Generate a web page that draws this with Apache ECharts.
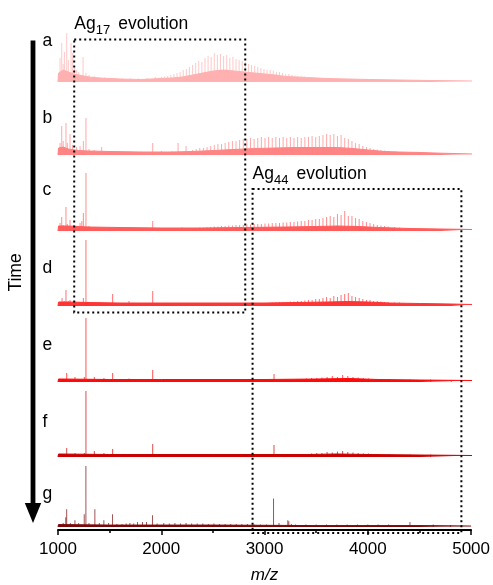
<!DOCTYPE html>
<html><head><meta charset="utf-8">
<script src="https://cdn.jsdelivr.net/npm/echarts@6/dist/echarts.min.js"></script>
<style>html,body{margin:0;padding:0;background:#fff}#c{width:493px;height:585px}</style>
</head><body><div id="c"></div>
<script>
// ---------- DATA (m/z, relative intensity) ----------
const mzTicks = [1000, 2000, 3000, 4000, 5000];
const traceLabels = ['a', 'b', 'c', 'd', 'e', 'f', 'g'];

const bandA = [[1000,0],[1005,9],[1050,12],[1100,10],[1150,8],[1200,7],[1300,5],[1400,4],[1500,3.5],[1600,3],[1800,2.5],[1900,3],[2000,3.5],[2100,4],[2200,5],[2300,7],[2400,9],[2500,11],[2600,12],[2700,11],[2800,10],[2900,9],[3000,8],[3100,7],[3200,5.5],[3300,5],[3400,4.5],[3600,3.5],[3800,3],[4000,2.5],[4300,2],[4600,1.5],[5000,1]];
const spikesA = [[1010,8],[1020,24],[1036,39],[1050,18],[1062,30],[1084,49],[1100,22],[1126,39],[1142,29],[1160,14],[1180,12],[1200,10],[1242,25],[1270,9],[1300,7],[1350,6],[1400,5],[1450,4.5],[1500,4],[1560,4],[1620,3.5],[1700,3.5],[1780,3.5],[1860,4],[1940,5]];
const combA = [[1970,4],[2000,5],[2030,5.5],[2060,6],[2090,7],[2120,8],[2150,9],[2180,10],[2210,12],[2240,13],[2270,15],[2300,17],[2330,19],[2360,21],[2390,20],[2420,24],[2450,26],[2480,25],[2510,29],[2540,27],[2570,28],[2600,26],[2630,27],[2660,24],[2690,25],[2720,23],[2750,22],[2780,21],[2810,20],[2840,18],[2870,17],[2900,16],[2930,15],[2960,14],[2990,13],[3020,12],[3050,12],[3080,11],[3110,10],[3140,10],[3170,9],[3200,8],[3230,8],[3260,7],[3290,6.5],[3320,6],[3350,6],[3380,5.5],[3410,5],[3440,5],[3470,4.5],[3500,4],[3550,4],[3600,3.5],[3650,3],[3700,3],[3750,2.5],[3800,2.5]];

const bandB = [[1000,0],[1005,7],[1050,8],[1100,6],[1200,4.5],[1300,4],[1500,3.5],[1800,3],[2100,3],[2300,3.5],[2500,4.5],[2700,5.5],[2900,6.5],[3100,7],[3300,7.5],[3500,7.5],[3700,7.5],[3850,6.5],[4000,5],[4150,3.5],[4300,3],[4500,2.5],[4700,1.8],[5000,1]];
const spikesB = [[1010,6],[1020,12],[1036,29],[1050,14],[1077,32],[1090,12],[1116,21],[1140,10],[1180,8],[1213,9],[1245,14],[1270,37],[1300,6],[1350,5],[1422,8],[1500,4],[1600,3.5],[1700,3.5],[1800,3.5],[1915,12],[2000,4],[2100,4],[2160,12],[2237,9]];
const combB = [[2300,5],[2335,6],[2370,7],[2405,7],[2440,8],[2475,9],[2510,10],[2545,11],[2580,11],[2615,12],[2650,13],[2685,14],[2720,14],[2755,15],[2790,16],[2825,16],[2860,17],[2895,16],[2930,17],[2965,18],[3000,17],[3035,18],[3070,17],[3105,18],[3140,17],[3175,18],[3210,17],[3245,18],[3280,17],[3315,18],[3350,17],[3385,18],[3420,18],[3455,19],[3490,18],[3525,19],[3560,20],[3595,21],[3630,20],[3665,21],[3700,19],[3735,20],[3770,17],[3805,16],[3840,14],[3875,12],[3910,11],[3945,9],[3980,8],[4015,7],[4050,6],[4085,5.5],[4120,5],[4155,4.5],[4190,4],[4250,3.5],[4300,3],[4400,2.5],[4500,2]];

const bandC = [[1000,0],[1005,5],[1100,5],[1300,4],[1600,3.5],[2000,3],[2400,3],[2800,3.5],[3200,4],[3500,4.5],[3700,5],[3900,4.5],[4100,3.5],[4400,2.5],[4700,2],[5000,1.5]];
const spikesC = [[1010,4],[1020,8],[1036,14],[1050,6],[1077,24],[1090,7],[1116,11],[1150,6],[1180,5],[1213,8],[1230,10],[1245,18],[1270,58],[1300,5],[1350,4],[1400,4],[1500,3.5],[1600,3],[1700,3],[1800,3],[1915,10],[2000,3],[2100,3],[2200,3.5]];
const combC = [[2300,3],[2335,3],[2370,3.5],[2405,3.5],[2440,4],[2475,4],[2510,4.5],[2545,4.5],[2580,5],[2615,5],[2650,5.5],[2685,5.5],[2720,6],[2755,6],[2790,6],[2825,6.5],[2860,6.5],[2895,7],[2930,7],[2965,7],[3000,7.5],[3035,7.5],[3070,8],[3105,8],[3140,8],[3175,8.5],[3210,8.5],[3245,9],[3280,9],[3315,9.5],[3350,10],[3385,10],[3420,11],[3455,11],[3490,12],[3525,12],[3560,13],[3595,14],[3630,15],[3665,14],[3700,17],[3735,16],[3770,20],[3805,15],[3840,15],[3875,13],[3910,12],[3945,10],[3980,9],[4015,8],[4050,7],[4085,6],[4120,5.5],[4155,5],[4190,4.5],[4250,4],[4300,3.5],[4400,3],[4500,2.5]];

const bandD = [[1000,0],[1005,4],[1100,4],[1300,3.5],[1600,3],[2000,3],[2500,3],[3000,3],[3300,3.5],[3600,4],[3800,4.5],[4000,4],[4200,3],[4500,2.5],[4800,2],[5000,1.5]];
const spikesD = [[1010,3],[1020,4],[1039,8],[1060,5],[1077,16],[1100,5],[1116,6],[1150,4],[1200,4],[1245,8],[1270,66],[1300,4],[1350,3.5],[1400,3.5],[1450,3],[1528,12],[1600,3],[1686,5],[1750,3],[1800,3],[1850,3],[1915,15],[2000,3],[2100,3],[2200,3],[2300,3],[2400,3],[2500,3],[2600,3],[2700,3],[2800,3],[2900,3]];
const combD = [[3000,3],[3035,3],[3070,3.5],[3105,3.5],[3140,4],[3175,4],[3210,4],[3245,4.5],[3280,4.5],[3315,5],[3350,5],[3385,5.5],[3420,6],[3455,6],[3490,7],[3525,7],[3560,8],[3595,9],[3630,8],[3665,10],[3700,9],[3735,11],[3770,12],[3805,13],[3840,10],[3875,9],[3910,8],[3945,7],[3980,6],[4015,6],[4050,5],[4085,5],[4120,4.5],[4155,4],[4190,4],[4250,3.5],[4300,3.5],[4400,3]];

const bandE = [[1000,0],[1005,3],[1500,2.5],[2000,2.5],[3000,2.5],[3500,3],[3800,3.5],[4100,2.5],[4500,2],[5000,1.5]];
const spikesE = [[1019,3],[1050,3],[1084,9],[1120,3],[1164,5],[1200,3],[1254,5],[1270,64],[1300,3],[1351,5],[1400,3],[1444,4],[1490,3],[1528,9],[1600,3],[1650,3],[1686,3.5],[1750,3],[1800,3],[1860,3],[1915,12],[1960,3],[2024,3],[2100,3],[2200,3],[2300,3],[2400,3],[2500,3],[2600,3],[2700,3],[2800,3],[2900,3],[3000,3],[3087,8],[3200,3]];
const combE = [[3300,3],[3350,3],[3400,3.5],[3450,4],[3500,4],[3550,4.5],[3600,5],[3650,6],[3700,5],[3750,7],[3800,6],[3850,5],[3900,4.5],[3950,4],[4000,3.5],[4100,3],[4200,3],[4400,2.5],[4600,2.5],[4800,2]];

const bandF = [[1000,0],[1005,3],[1500,2.5],[2500,2.5],[3400,2.5],[3700,3],[4000,2.5],[4500,2],[5000,1.5]];
const spikesF = [[1019,3],[1050,3],[1084,9],[1120,3],[1164,4],[1200,3],[1254,4],[1270,66],[1300,3],[1351,6],[1400,3],[1444,4],[1490,3],[1528,8],[1600,3],[1686,3],[1750,3],[1800,3],[1860,3],[1915,13],[2000,3],[2100,3],[2200,3],[2300,3],[2400,3],[2500,3],[2600,3],[2700,3],[2800,3],[2900,3],[3000,3],[3087,12],[3200,3],[3300,3]];
const combF = [[3400,3],[3450,3.5],[3500,4],[3550,4],[3600,5],[3650,4.5],[3700,5.5],[3750,6],[3800,5],[3850,4.5],[3900,4],[3950,3.5],[4000,3.5],[4100,3],[4200,3],[4400,2.5],[4600,2.5]];

const bandG = [[1000,0],[1005,2.5],[1500,2],[2500,2],[3500,1.5],[4500,1.5],[5000,1]];
const spikesG = [[1010,2],[1019,3],[1050,4],[1075,10],[1084,18],[1120,4],[1164,7],[1200,4],[1254,13],[1270,62],[1300,4],[1357,18],[1400,4],[1444,7],[1490,4],[1528,13],[1570,3],[1620,3],[1660,3.5],[1696,4],[1733,3.5],[1770,5],[1818,5],[1857,5],[1915,12],[1960,3.5],[2024,4],[2078,3.5],[2132,4],[2186,3.5],[2240,4],[2294,3.5],[2348,3.5],[2402,3.5],[2456,3],[2510,3.5],[2564,3],[2618,3],[2672,3],[2726,3],[2780,3],[2834,3],[2900,2.5],[2960,2.5],[3020,2.5],[3087,29],[3140,4],[3225,7],[3235,6],[3260,3],[3300,2.5],[3400,2.5],[3500,2.5],[3600,2.5],[3700,2.5],[3800,2.5],[3900,2.5],[4000,2.5],[4100,2.5],[4200,2.5],[4300,2],[4408,5],[4500,2],[4633,2.5],[4800,2]];
const combG = [];

// Annotation boxes (m/z extents)
const ag17Box = [1157, 2813];
const ag44Box = [2884, 4906];

// ---------- LAYOUT / STYLE ----------
const bands = [bandA, bandB, bandC, bandD, bandE, bandF, bandG];
const spikes = [spikesA, spikesB, spikesC, spikesD, spikesE, spikesF, spikesG];
const combs = [combA, combB, combC, combD, combE, combF, combG];
const colors = ['#ffb0b0', '#ff8484', '#ff5c5c', '#ff3535', '#ff0a0a', '#c80000', '#7a0a0a'];
const baselines = [82, 155, 231, 306, 382, 457, 528];
const labelY = [41, 118, 190.5, 268.5, 345, 422.5, 494];
const FONT = '"Liberation Sans", Arial, Helvetica, sans-serif';
const PLOT_LEFT = 58, PLOT_W = 414;

const grids = [], xAxes = [], yAxes = [], series = [];
baselines.forEach((b, i) => {
  grids.push({ left: PLOT_LEFT, width: PLOT_W, top: b - 67, height: 70 });
  const last = i === baselines.length - 1;
  xAxes.push(last ? {
    gridIndex: i, type: 'value', min: mzTicks[0], max: mzTicks[mzTicks.length - 1], interval: 1000,
    axisLine: { show: true, onZero: false, lineStyle: { color: '#000', width: 2 } },
    axisTick: { show: true, inside: false, length: 5, lineStyle: { color: '#000', width: 1.5 } },
    minorTick: { show: true, splitNumber: 2, length: 3, lineStyle: { color: '#000', width: 1.5 } },
    splitLine: { show: false }, minorSplitLine: { show: false },
    axisLabel: { color: '#000', fontSize: 17, fontFamily: FONT, margin: 11, formatter: v => String(v) },
    name: 'm/z', nameLocation: 'middle', nameGap: 37,
    nameTextStyle: { color: '#000', fontSize: 17, fontStyle: 'italic', fontFamily: FONT }
  } : { gridIndex: i, type: 'value', min: mzTicks[0], max: mzTicks[mzTicks.length - 1], show: false });
  yAxes.push({ gridIndex: i, type: 'value', min: -3, max: 67, show: false });
  series.push({
    type: 'line', xAxisIndex: i, yAxisIndex: i, data: bands[i], symbol: 'none', silent: true,
    lineStyle: { color: colors[i], width: 1 }, areaStyle: { color: colors[i], opacity: 1 }, z: 2
  });
  series.push({
    type: 'bar', xAxisIndex: i, yAxisIndex: i, data: spikes[i].concat(combs[i]), barWidth: 1, silent: true,
    itemStyle: { color: colors[i], opacity: 0.7 }, z: 3
  });
});

const chart = echarts.init(document.getElementById('c'), null, { renderer: 'canvas' });
chart.setOption({
  animation: false, backgroundColor: '#fff',
  textStyle: { fontFamily: FONT },
  grid: grids, xAxis: xAxes, yAxis: yAxes, series: series
});

const px = mz => chart.convertToPixel({ xAxisIndex: 6 }, mz);
const txt = (text, x, y, size, extra) => Object.assign({
  type: 'text', x: x, y: y, silent: true,
  style: { text: text, fill: '#000', fontSize: size, fontFamily: FONT, align: 'left', verticalAlign: 'middle' }
}, extra || {});

const graphics = [];
traceLabels.forEach((t, i) => graphics.push(txt(t, 42.5, labelY[i], 17.5)));
// Time arrow
graphics.push({ type: 'rect', silent: true, shape: { x: 30.6, y: 40.5, width: 4.8, height: 465 }, style: { fill: '#000' } });
graphics.push({ type: 'polygon', silent: true, shape: { points: [[24.8, 503], [41.2, 503], [33, 523]] }, style: { fill: '#000' } });
graphics.push({ type: 'text', x: 16, y: 272.5, rotation: Math.PI / 2, silent: true,
  style: { text: 'Time', fill: '#000', fontSize: 17.5, fontFamily: FONT, align: 'center', verticalAlign: 'middle' } });
// Boxes
const box = (x0, x1, y0, y1) => ({ type: 'rect', silent: true, shape: { x: x0, y: y0, width: x1 - x0, height: y1 - y0 },
  style: { fill: 'none', stroke: '#000', lineWidth: 2, lineDash: [2, 3] }, z: 10 });
const b1x0 = px(ag17Box[0]), b1x1 = px(ag17Box[1]);
const b2x0 = px(ag44Box[0]), b2x1 = px(ag44Box[1]);
graphics.push(box(b1x0, b1x1, 39.5, 312.5));
graphics.push(box(b2x0, b2x1, 189, 533));
// Box titles with subscripts
graphics.push(txt('Ag', b1x0, 24, 17.5));
graphics.push(txt('17', b1x0 + 21.5, 30, 13));
graphics.push(txt('evolution', b1x0 + 44, 24, 17.5));
graphics.push(txt('Ag', b2x0, 174, 17.5));
graphics.push(txt('44', b2x0 + 21.5, 180, 13));
graphics.push(txt('evolution', b2x0 + 44, 174, 17.5));
chart.setOption({ graphic: graphics });
</script>
</body></html>
